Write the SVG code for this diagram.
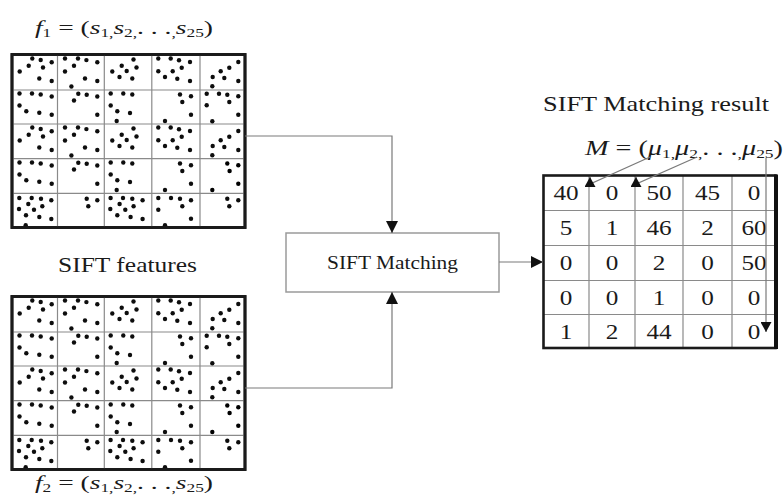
<svg xmlns="http://www.w3.org/2000/svg" xmlns:xlink="http://www.w3.org/1999/xlink" width="783" height="504" viewBox="0 0 783 504">
  <style>
    .lbl { font-family: "Liberation Serif", "Times New Roman", serif; fill: #1a1a1a; }
    .it { font-style: italic; }
    .num { font-family: "Liberation Serif", "Times New Roman", serif; font-size: 21px; text-anchor: middle; fill: #1a1a1a; }
    .frame { fill: #fff; stroke: #1a1a1a; stroke-width: 2.8; }
    .grid-in { stroke: #8a8a8a; stroke-width: 1.2; fill: none; }
    .dot { fill: #0d0d0d; }
    .wire { stroke: #7a7a7a; stroke-width: 1.2; fill: none; }
    .box { fill: #fff; stroke: #9a9a9a; stroke-width: 1.5; }
  </style>
  <defs>
    <marker id="arrow" viewBox="0 0 12 12" refX="12" refY="6" markerWidth="12" markerHeight="12" markerUnits="userSpaceOnUse" orient="auto">
      <path d="M0,0 L12,6 L0,12 z" fill="#111"/>
    </marker>
    <marker id="arrow-sm" viewBox="0 0 10 11" refX="10" refY="5.5" markerWidth="10" markerHeight="11" markerUnits="userSpaceOnUse" orient="auto">
      <path d="M0,0 L10,5.5 L0,11 z" fill="#111"/>
    </marker>

    <!-- keypoint dots, first row of cells -->
    <g id="dots-row1" class="dot">
      <circle cx="32.3" cy="58.5" r="2.2"/><circle cx="40.7" cy="60" r="2.2"/><circle cx="51.7" cy="62.2" r="2.2"/><circle cx="28.7" cy="65.8" r="2.2"/><circle cx="43" cy="67.5" r="2.2"/><circle cx="19.7" cy="71.5" r="2.2"/><circle cx="39.3" cy="78.5" r="2.2"/><circle cx="51.7" cy="81" r="2.2"/>
      <circle cx="65" cy="58.5" r="2.2"/><circle cx="78" cy="58.5" r="2.2"/><circle cx="86.4" cy="60.1" r="2.2"/><circle cx="97.3" cy="62.2" r="2.2"/><circle cx="74" cy="65.8" r="2.2"/><circle cx="65" cy="71.5" r="2.2"/><circle cx="85" cy="78.5" r="2.2"/><circle cx="97.3" cy="81" r="2.2"/><circle cx="71.4" cy="86.5" r="2.2"/>
      <circle cx="133.5" cy="59.5" r="2.2"/><circle cx="121.7" cy="65.7" r="2.2"/><circle cx="136.5" cy="67.5" r="2.2"/><circle cx="126.7" cy="71" r="2.2"/><circle cx="112.3" cy="71.5" r="2.2"/><circle cx="119.5" cy="77" r="2.2"/><circle cx="132.3" cy="78.5" r="2.2"/>
      <circle cx="158.3" cy="58.5" r="2.2"/><circle cx="170.7" cy="58.5" r="2.2"/><circle cx="179" cy="60.3" r="2.2"/><circle cx="190" cy="62" r="2.2"/><circle cx="181.7" cy="67.7" r="2.2"/><circle cx="158.3" cy="71.3" r="2.2"/><circle cx="172.7" cy="71.3" r="2.2"/><circle cx="165" cy="77" r="2.2"/><circle cx="177.3" cy="78.7" r="2.2"/><circle cx="190" cy="81" r="2.2"/>
      <circle cx="238.3" cy="62" r="2.2"/><circle cx="229.3" cy="67.7" r="2.2"/><circle cx="220.7" cy="71.3" r="2.2"/><circle cx="212.7" cy="77" r="2.2"/><circle cx="224.3" cy="78" r="2.2"/><circle cx="238.3" cy="81" r="2.2"/><circle cx="212.3" cy="86.3" r="2.2"/>
    </g>
    <!-- second row, cells 1-4 -->
    <g id="dots-row2a" class="dot">
      <circle cx="19.5" cy="93.5" r="2.2"/><circle cx="32" cy="93.5" r="2.2"/><circle cx="40.7" cy="94.5" r="2.2"/><circle cx="51.7" cy="96.5" r="2.2"/><circle cx="19.5" cy="105.5" r="2.2"/><circle cx="26.3" cy="111.2" r="2.2"/><circle cx="39.3" cy="112.8" r="2.2"/><circle cx="51.7" cy="114.8" r="2.2"/>
      <circle cx="78.3" cy="93.7" r="2.2"/><circle cx="86.7" cy="94.7" r="2.2"/><circle cx="97.3" cy="96.5" r="2.2"/><circle cx="74" cy="100.5" r="2.2"/><circle cx="97.3" cy="114.8" r="2.2"/>
      <circle cx="110.7" cy="93.5" r="2.2"/><circle cx="123.3" cy="93.5" r="2.2"/><circle cx="132.3" cy="94.5" r="2.2"/><circle cx="110.7" cy="105.5" r="2.2"/><circle cx="117.3" cy="111.2" r="2.2"/><circle cx="130" cy="113" r="2.2"/><circle cx="116.7" cy="121" r="2.2"/>
      <g id="dots-c24">
        <circle cx="180" cy="94.5" r="2.2"/><circle cx="191" cy="96.3" r="2.2"/><circle cx="182.3" cy="102" r="2.2"/><circle cx="191" cy="114.7" r="2.2"/><circle cx="165" cy="121" r="2.2"/>
      </g>
    </g>
    <!-- second row, cell 5 -->
    <g id="dots-c25" class="dot">
      <circle cx="206.7" cy="93.7" r="2.2"/><circle cx="219" cy="93.7" r="2.2"/><circle cx="227.3" cy="94.7" r="2.2"/><circle cx="238.3" cy="96.3" r="2.2"/><circle cx="229.3" cy="102" r="2.2"/><circle cx="206.7" cy="105.3" r="2.2"/><circle cx="238.3" cy="114.7" r="2.2"/><circle cx="212.3" cy="121.3" r="2.2"/>
    </g>
    <!-- fifth row -->
    <g id="dots-row5" class="dot">
      <circle cx="19.3" cy="198" r="2.2"/><circle cx="31.7" cy="198" r="2.2"/><circle cx="41" cy="198.7" r="2.2"/><circle cx="51.3" cy="200.3" r="2.2"/><circle cx="28.3" cy="204" r="2.2"/><circle cx="42.3" cy="206.3" r="2.2"/><circle cx="19" cy="209" r="2.2"/><circle cx="34" cy="209.7" r="2.2"/><circle cx="26" cy="215.3" r="2.2"/><circle cx="39.3" cy="217" r="2.2"/><circle cx="51.3" cy="219" r="2.2"/><circle cx="25.7" cy="225.3" r="2.2"/>
      <circle cx="86.7" cy="198.7" r="2.2"/><circle cx="97.3" cy="200.3" r="2.2"/><circle cx="88.3" cy="206.3" r="2.2"/>
      <circle cx="110.6" cy="198" r="2.2"/><circle cx="123" cy="198" r="2.2"/><circle cx="132.3" cy="198.7" r="2.2"/><circle cx="142.6" cy="200.3" r="2.2"/><circle cx="119.6" cy="204" r="2.2"/><circle cx="133.6" cy="206.3" r="2.2"/><circle cx="110.3" cy="209" r="2.2"/><circle cx="125.3" cy="209.7" r="2.2"/><circle cx="117.3" cy="215.3" r="2.2"/><circle cx="130.6" cy="217" r="2.2"/><circle cx="142.6" cy="219" r="2.2"/>
      <circle cx="158.3" cy="198" r="2.2"/><circle cx="171" cy="198" r="2.2"/><circle cx="180" cy="198.7" r="2.2"/><circle cx="191" cy="200.3" r="2.2"/><circle cx="182.3" cy="206.3" r="2.2"/><circle cx="158.3" cy="209.7" r="2.2"/><circle cx="191" cy="218.7" r="2.2"/><circle cx="165" cy="225.3" r="2.2"/>
      <circle cx="227.3" cy="198.7" r="2.2"/><circle cx="238.3" cy="200.3" r="2.2"/><circle cx="229.3" cy="206.3" r="2.2"/>
    </g>

    <!-- 5x5 feature grid with keypoints -->
    <g id="feature-grid">
      <rect class="frame" x="12" y="54.5" width="233" height="173"/>
      <path class="grid-in" d="M57.5,54.5V227.5 M104.3,54.5V227.5 M151.8,54.5V227.5 M200,54.5V227.5 M12,90H245 M12,124H245 M12,158.7H245 M12,193.3H245"/>
      <use xlink:href="#dots-row1"/>
      <use xlink:href="#dots-row2a"/>
      <use xlink:href="#dots-c25"/>
      <use xlink:href="#dots-row1" y="69"/>
      <use xlink:href="#dots-row2a" y="69"/>
      <use xlink:href="#dots-c24" transform="translate(47.3,69)"/>
      <use xlink:href="#dots-row5"/>
      <rect x="12" y="54.5" width="233" height="173" fill="none" stroke="#1a1a1a" stroke-width="2.8"/>
    </g>
  </defs>

  <!-- first feature set -->
  <g id="features-1">
    <text class="lbl" x="35" y="34" font-size="19" textLength="178" lengthAdjust="spacingAndGlyphs"><tspan class="it">f</tspan><tspan font-size="12" dy="3">1</tspan><tspan dy="-3"> = (</tspan><tspan class="it">s</tspan><tspan font-size="12" dy="3">1</tspan><tspan font-size="12">,</tspan><tspan class="it" dy="-3">s</tspan><tspan font-size="12" dy="3">2</tspan><tspan font-size="12">,</tspan><tspan dy="-3">. . .</tspan><tspan font-size="12" dy="3">,</tspan><tspan class="it" dy="-3">s</tspan><tspan font-size="12" dy="3">25</tspan><tspan dy="-3">)</tspan></text>
    <use xlink:href="#feature-grid"/>
  </g>

  <!-- second feature set -->
  <g id="features-2">
    <use xlink:href="#feature-grid" transform="translate(0,242)"/>
    <text class="lbl" x="35" y="489" font-size="19" textLength="178" lengthAdjust="spacingAndGlyphs"><tspan class="it">f</tspan><tspan font-size="12" dy="3">2</tspan><tspan dy="-3"> = (</tspan><tspan class="it">s</tspan><tspan font-size="12" dy="3">1</tspan><tspan font-size="12">,</tspan><tspan class="it" dy="-3">s</tspan><tspan font-size="12" dy="3">2</tspan><tspan font-size="12">,</tspan><tspan dy="-3">. . .</tspan><tspan font-size="12" dy="3">,</tspan><tspan class="it" dy="-3">s</tspan><tspan font-size="12" dy="3">25</tspan><tspan dy="-3">)</tspan></text>
  </g>

  <g id="features-caption">
    <text class="lbl" x="58" y="272" font-size="22" textLength="139" lengthAdjust="spacingAndGlyphs">SIFT features</text>
  </g>

  <!-- matching step -->
  <g id="sift-matching">
    <rect class="box" x="286" y="233" width="213" height="59"/>
    <text class="lbl" x="327" y="269" font-size="18" textLength="131" lengthAdjust="spacingAndGlyphs" fill="#333">SIFT Matching</text>
  </g>

  <!-- matching result table -->
  <g id="match-result">
    <text class="lbl" x="543" y="111" font-size="22" textLength="226" lengthAdjust="spacingAndGlyphs">SIFT Matching result</text>
    <text class="lbl" x="585" y="155" font-size="21" textLength="198" lengthAdjust="spacingAndGlyphs"><tspan class="it">M</tspan> = (<tspan class="it">μ</tspan><tspan font-size="13" dy="3">1</tspan><tspan font-size="13">,</tspan><tspan class="it" dy="-3">μ</tspan><tspan font-size="13" dy="3">2</tspan><tspan font-size="13">,</tspan><tspan dy="-3">. . .</tspan><tspan font-size="13" dy="3">,</tspan><tspan class="it" dy="-3">μ</tspan><tspan font-size="13" dy="3">25</tspan><tspan dy="-3">)</tspan></text>
    <rect x="543.5" y="175.5" width="232" height="172.5" fill="#fff" stroke="none"/>
    <path class="grid-in" d="M589,175.5V348 M635,175.5V348 M683,175.5V348 M732,175.5V348 M543.5,210.5H776 M543.5,245.5H776 M543.5,280.5H776 M543.5,314.5H776"/>
    <rect x="543.5" y="175.5" width="232" height="172.5" fill="none" stroke="#1a1a1a" stroke-width="2.6"/>
    <line x1="776" y1="174.5" x2="776" y2="349" stroke="#111" stroke-width="4"/>
    <g class="num">
      <text transform="matrix(1.2 0 0 1 566 200)">40</text>
      <text transform="matrix(1.2 0 0 1 612 200)">0</text>
      <text transform="matrix(1.2 0 0 1 659 200)">50</text>
      <text transform="matrix(1.2 0 0 1 707.5 200)">45</text>
      <text transform="matrix(1.2 0 0 1 754 200)">0</text>
      <text transform="matrix(1.2 0 0 1 566 235)">5</text>
      <text transform="matrix(1.2 0 0 1 612 235)">1</text>
      <text transform="matrix(1.2 0 0 1 659 235)">46</text>
      <text transform="matrix(1.2 0 0 1 707.5 235)">2</text>
      <text transform="matrix(1.2 0 0 1 754 235)">60</text>
      <text transform="matrix(1.2 0 0 1 566 270)">0</text>
      <text transform="matrix(1.2 0 0 1 612 270)">0</text>
      <text transform="matrix(1.2 0 0 1 659 270)">2</text>
      <text transform="matrix(1.2 0 0 1 707.5 270)">0</text>
      <text transform="matrix(1.2 0 0 1 754 270)">50</text>
      <text transform="matrix(1.2 0 0 1 566 305)">0</text>
      <text transform="matrix(1.2 0 0 1 612 305)">0</text>
      <text transform="matrix(1.2 0 0 1 659 305)">1</text>
      <text transform="matrix(1.2 0 0 1 707.5 305)">0</text>
      <text transform="matrix(1.2 0 0 1 754 305)">0</text>
      <text transform="matrix(1.2 0 0 1 566 339)">1</text>
      <text transform="matrix(1.2 0 0 1 612 339)">2</text>
      <text transform="matrix(1.2 0 0 1 659 339)">44</text>
      <text transform="matrix(1.2 0 0 1 707.5 339)">0</text>
      <text transform="matrix(1.2 0 0 1 754 339)">0</text>
    </g>
  </g>

  <!-- connectors -->
  <g id="connectors">
    <path class="wire" d="M245,136 H392 V233" marker-end="url(#arrow)"/>
    <path class="wire" d="M245,388 H392 V292" marker-end="url(#arrow)"/>
    <path class="wire" d="M499,262 H543" marker-end="url(#arrow)"/>
    <path class="wire" d="M650,157 L590,184 V177" marker-end="url(#arrow-sm)"/>
    <path class="wire" d="M697,157 L636,184 V177" marker-end="url(#arrow-sm)"/>
    <path class="wire" d="M766,158 V332" marker-end="url(#arrow-sm)"/>
  </g>
</svg>
